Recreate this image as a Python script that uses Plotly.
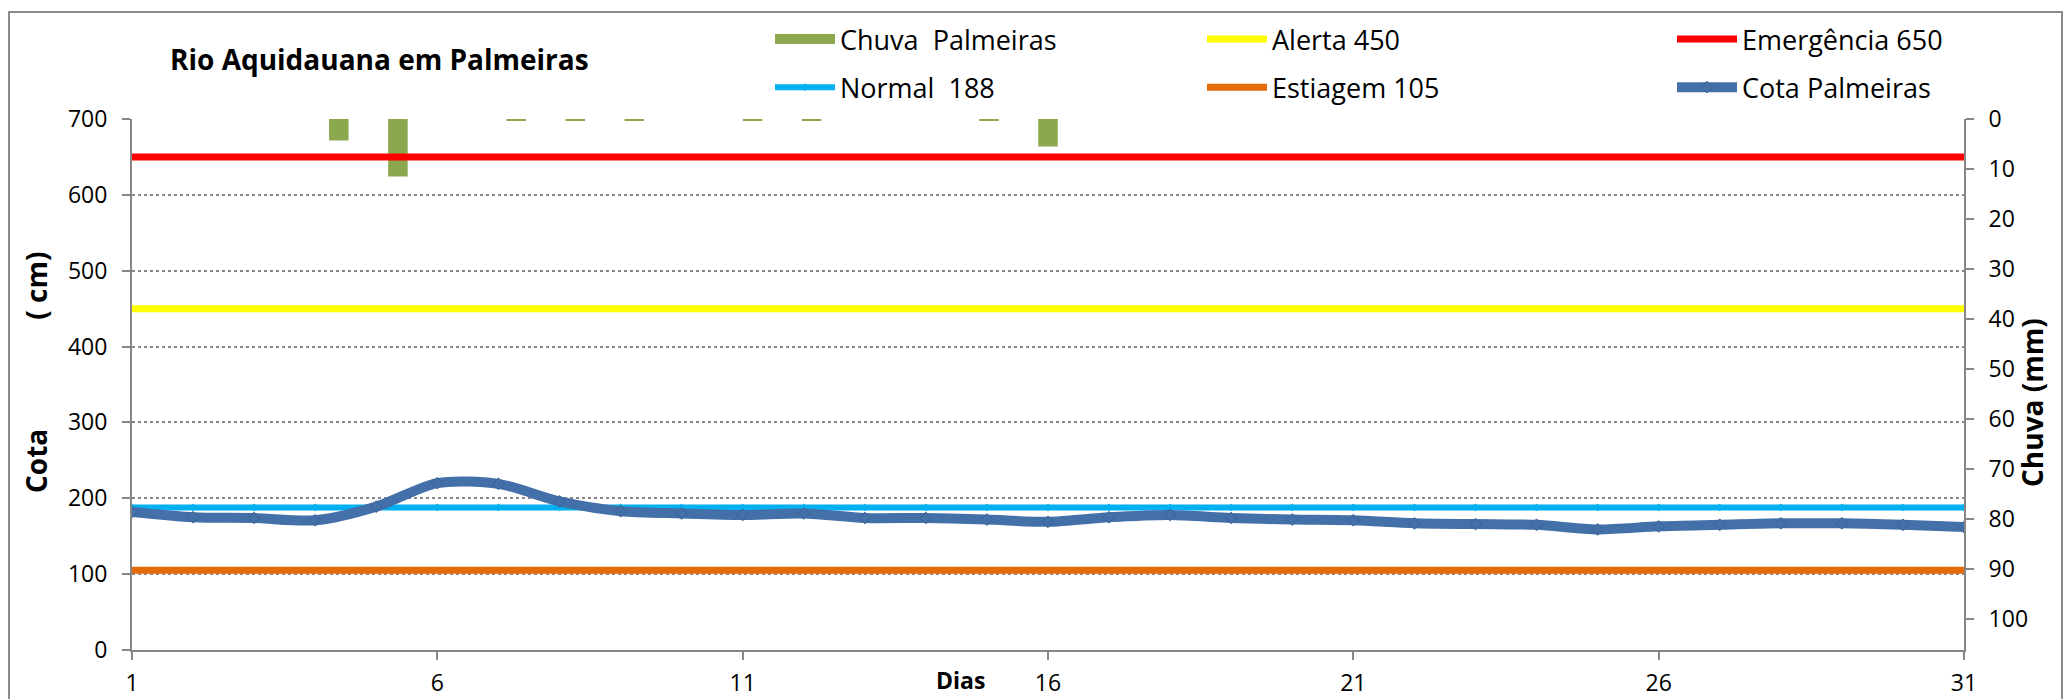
import plotly.graph_objects as go

# ---------------- data ----------------
days = list(range(1, 32))
cota = [182, 175, 174, 171, 189, 220, 219, 196, 183, 180, 178, 180, 174, 174, 172, 169,
        175, 178, 174, 172, 171, 167, 166, 165, 159, 163, 165, 167, 167, 165, 162]
chuva_days = [4, 5, 7, 8, 9, 11, 12, 15, 16]
chuva_mm = [4.3, 11.5, 0.3, 0.3, 0.3, 0.3, 0.3, 0.3, 5.5]
alerta, emergencia, normal, estiagem = 450, 650, 188, 105
x_ticks = [1, 6, 11, 16, 21, 26, 31]
y_left_ticks = [0, 100, 200, 300, 400, 500, 600, 700]
y_right_ticks = [0, 10, 20, 30, 40, 50, 60, 70, 80, 90, 100]

W, H = 2071, 699
L, R, T, B = 132, 1964, 119, 650
FONT = "Open Sans"
GRAY = "#868686"
GREEN = "#8CA84E"

def px(xp):
    return (xp - L) / (R - L)

def py(yp):
    return (B - yp) / (B - T)

fig = go.Figure()

# rain bars (base subplot, drawn behind the lines)
fig.add_trace(go.Bar(
    x=chuva_days, y=chuva_mm, name="Chuva\u00a0\u00a0Palmeiras",
    marker=dict(color=GREEN, line=dict(width=0)), width=0.33,
    xaxis="x", yaxis="y", showlegend=False, legendgroup="a"))
# legend key for the bars (wide rectangle like the original)
fig.add_trace(go.Scatter(
    x=[None], y=[None], name="Chuva\u00a0\u00a0Palmeiras", mode="lines",
    line=dict(color=GREEN, width=17), xaxis="x", yaxis="y",
    legend="legend", legendgroup="a"))

def hline(val, name, color, width, leg, grp, marker=False):
    fig.add_trace(go.Scatter(
        x=days, y=[val] * len(days), name=name,
        mode="lines+markers" if marker else "lines",
        line=dict(color=color, width=width),
        marker=dict(symbol="diamond", size=6, color=color),
        xaxis="x2", yaxis="y2", legend=leg, legendgroup=grp))

hline(normal, "Normal\u00a0\u00a0188", "#00B0F0", 6, "legend", "b", marker=True)
hline(alerta, "Alerta 450", "#FFFF00", 7, "legend2", "c")
hline(estiagem, "Estiagem 105", "#E46C0A", 7, "legend2", "d")
hline(emergencia, "Emergência 650", "#FF0000", 7, "legend3", "e")

fig.add_trace(go.Scatter(
    x=days, y=cota, name="Cota Palmeiras", mode="lines+markers",
    line=dict(color="#4370A8", width=10, shape="spline", smoothing=0.8),
    marker=dict(symbol="diamond", size=9, color="#4370A8",
                line=dict(color="#3A6296", width=1)),
    xaxis="x2", yaxis="y2", legend="legend3", legendgroup="f"))

tickfont = dict(family=FONT, size=23, color="#000000")
legfont = dict(family=FONT, size=27, color="#000000")

def legend_at(x):
    return dict(x=px(x), y=py(15), xanchor="left", yanchor="top",
                orientation="v", font=legfont, tracegroupgap=10,
                itemwidth=60, bgcolor="rgba(0,0,0,0)")

axis_common = dict(zeroline=False, showline=True, linecolor=GRAY, linewidth=2,
                   ticks="outside", ticklen=8, tickcolor=GRAY, tickwidth=2,
                   tickfont=tickfont, automargin=False)

fig.update_layout(
    template="none",
    width=W, height=H,
    margin=dict(l=L, r=W - R, t=T, b=H - B, autoexpand=False),
    paper_bgcolor="white", plot_bgcolor="white",
    barmode="overlay",
    xaxis=dict(range=[0.5, 31.5], visible=False, fixedrange=True, automargin=False),
    yaxis=dict(range=[106.2, 0], side="right", tickvals=y_right_ticks,
               showgrid=False, ticklabelstandoff=10, **axis_common),
    xaxis2=dict(range=[1, 31], overlaying="x", tickvals=x_ticks, showgrid=False,
                ticklabelstandoff=3, **axis_common),
    yaxis2=dict(range=[0, 700], overlaying="y", side="left", tickvals=y_left_ticks,
                showgrid=True, gridcolor=GRAY, griddash="dot", gridwidth=1.5,
                ticklabelstandoff=10, **axis_common),
    legend=legend_at(770),
    legend2=legend_at(1202),
    legend3=legend_at(1672),
    showlegend=True,
    annotations=[
        dict(text="<b>Rio Aquidauana em Palmeiras</b>", x=px(379), y=py(59),
             xref="paper", yref="paper", showarrow=False,
             xanchor="center", yanchor="middle",
             font=dict(family=FONT, size=28, color="#000000")),
        dict(text="<b>Cota" + "\u00a0" * 15 + "( cm)</b>", x=px(36), y=py(372),
             xref="paper", yref="paper", showarrow=False, textangle=-90,
             xanchor="center", yanchor="middle",
             font=dict(family=FONT, size=28, color="#000000")),
        dict(text="<b>Chuva (mm)</b>", x=px(2032), y=py(403),
             xref="paper", yref="paper", showarrow=False, textangle=-90,
             xanchor="center", yanchor="middle",
             font=dict(family=FONT, size=28, color="#000000")),
        dict(text="<b>Dias</b>", x=px(960), y=py(680),
             xref="paper", yref="paper", showarrow=False,
             xanchor="center", yanchor="middle",
             font=dict(family=FONT, size=23, color="#000000")),
    ],
    shapes=[
        dict(type="rect", xref="paper", yref="paper",
             x0=px(9), x1=px(2062), y0=py(740), y1=py(12),
             line=dict(color="#8A8A8A", width=2), fillcolor="rgba(0,0,0,0)",
             layer="below"),
    ],
)

fig.write_html("out.html", config={"displayModeBar": False},
               post_script="document.body.style.margin='0';document.body.style.overflow='hidden';")
